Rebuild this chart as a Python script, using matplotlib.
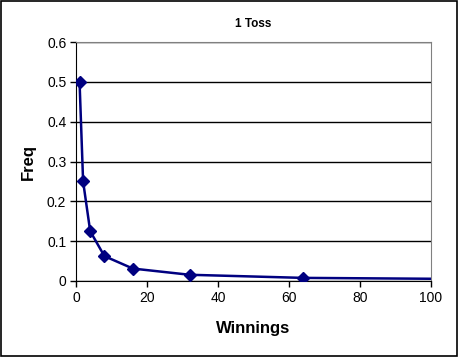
import matplotlib
matplotlib.use("Agg")
import matplotlib.pyplot as plt
from matplotlib.ticker import MultipleLocator

plt.rcParams['font.family'] = ['Liberation Sans', 'DejaVu Sans']

# winnings for one toss and their frequency
winnings = [1, 2, 4, 8, 16, 32, 64, 128]
freq = [0.5, 0.25, 0.125, 0.0625, 0.03125, 0.015625, 0.0078125, 0.00390625]
yticks = [0, 0.1, 0.2, 0.3, 0.4, 0.5, 0.6]
ytick_labels = ['0', '0.1', '0.2', '0.3', '0.4', '0.5', '0.6']

fig = plt.figure(figsize=(4.58, 3.57), dpi=100)
ax = fig.add_axes([76 / 458, 1 - 281 / 357, 355 / 458, 239 / 357])

# black border round the whole picture
fig.patches.append(plt.Rectangle((0.002, 0.003), 0.995, 0.994, transform=fig.transFigure,
                                 fill=False, edgecolor='black', linewidth=1.2))

ax.plot(winnings, freq, color='#000080', linewidth=1.8, marker='D', markersize=6.5,
        markerfacecolor='#000080', markeredgecolor='#000080', zorder=3)

ax.set_xlim(0, 100)
ax.set_ylim(0, 0.6)
ax.xaxis.set_major_locator(MultipleLocator(20))
ax.set_yticks(yticks)
ax.set_yticklabels(ytick_labels)
ax.grid(axis='y', color='black', linewidth=1)
ax.set_axisbelow(True)

for side in ['top', 'right']:
    ax.spines[side].set_color('#808080')
ax.spines['left'].set_color('black')
ax.spines['bottom'].set_color('black')
ax.tick_params(direction='out', length=4, width=1, labelsize=10, colors='black')
ax.tick_params(axis='y', pad=3)

ax.set_title('1 Toss', fontsize=8.5, fontweight='bold', pad=11)
ax.set_xlabel('Winnings', fontsize=12, fontweight='bold', labelpad=11)
ax.set_ylabel('Freq', fontsize=12, fontweight='bold', labelpad=8)

fig.savefig('out.png', dpi=100)
